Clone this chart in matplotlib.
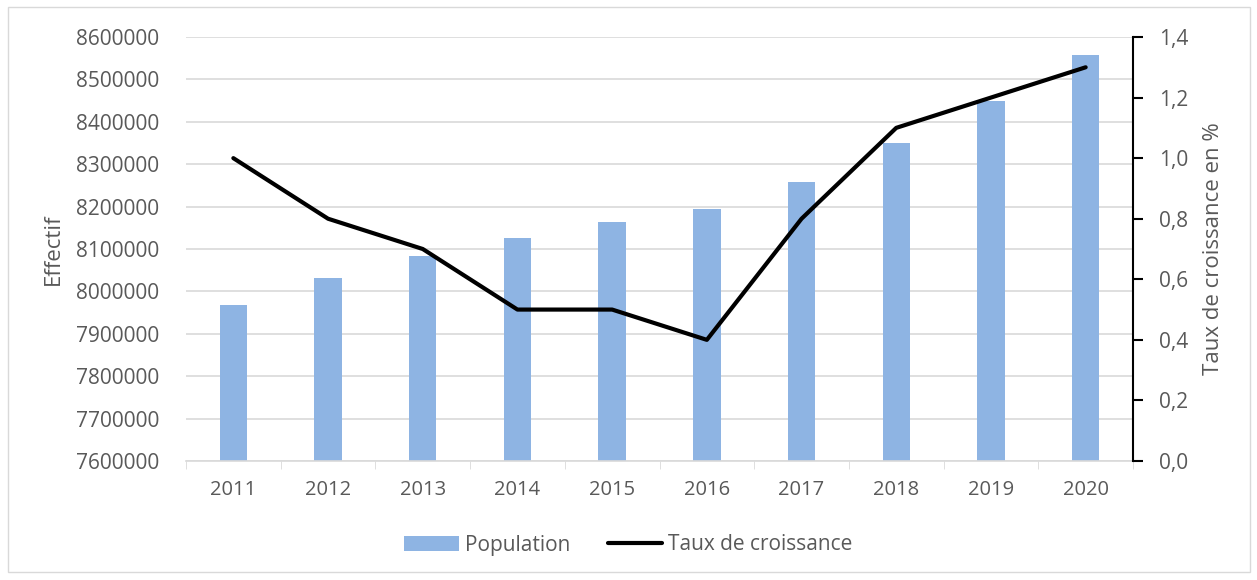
import matplotlib.pyplot as plt
from matplotlib.ticker import FuncFormatter
from matplotlib.patches import Rectangle

# Données
annees = ['2011', '2012', '2013', '2014', '2015', '2016', '2017', '2018', '2019', '2020']
population = [7968000, 8031000, 8083500, 8126000, 8163700, 8194300, 8258000, 8350700, 8448300, 8557500]
taux = [1.0, 0.8, 0.7, 0.5, 0.5, 0.4, 0.8, 1.1, 1.2, 1.3]

plt.rcParams['font.family'] = ['Open Sans', 'DejaVu Sans']
gris = '#595959'

fig = plt.figure(figsize=(12.57, 5.8), dpi=100)
ax = fig.add_axes([186 / 1257, 1 - 461 / 580, (1133 - 186) / 1257, (461 - 37) / 580])

x = list(range(len(annees)))
barres = ax.bar(x, population, width=0.29, color='#8eb4e3', label='Population', zorder=2)
ax.set_ylim(7600000, 8600000)
ax.set_xlim(-0.5, len(annees) - 0.5)
ax.set_yticks(range(7600000, 8600001, 100000))
ax.yaxis.set_major_formatter(FuncFormatter(lambda v, p: '%d' % v))
ax.grid(axis='y', color='#d9d9d9', linewidth=1.2, zorder=0)
ax.set_xticks(x)
ax.set_xticklabels(annees)
ax.set_xticks([i + 0.5 for i in x[:-1]] + [-0.5, len(annees) - 0.5], minor=True)
ax.tick_params(axis='x', which='major', length=0, pad=14, labelsize=14.5, labelcolor=gris)
ax.tick_params(axis='x', which='minor', length=6, color='#d9d9d9')
ax.tick_params(axis='y', length=0, pad=19, labelsize=15, labelcolor=gris)
for s in ['top', 'right', 'left']:
    ax.spines[s].set_visible(False)
ax.spines['bottom'].set_color('#d9d9d9')
ax.spines['bottom'].set_linewidth(1.2)
ax.set_ylabel('Effectif', fontsize=16, color=gris, labelpad=9)

ax2 = ax.twinx()
ligne, = ax2.plot(x, taux, color='black', linewidth=3, label='Taux de croissance',
                  solid_capstyle='round', zorder=3)
ax2.set_ylim(0, 1.4)
ax2.set_yticks([0, 0.2, 0.4, 0.6, 0.8, 1.0, 1.2, 1.4])
ax2.yaxis.set_major_formatter(FuncFormatter(lambda v, p: ('%.1f' % v).replace('.', ',')))
for s in ['top', 'left', 'bottom']:
    ax2.spines[s].set_visible(False)
ax2.spines['right'].set_color('black')
ax2.spines['right'].set_linewidth(1.5)
ax2.tick_params(axis='y', length=7, width=1.5, color='black', pad=12, labelsize=15, labelcolor=gris)
ax2.set_ylabel('Taux de croissance en %', fontsize=16, color=gris, labelpad=10)

fig.legend([barres, ligne], ['Population', 'Taux de croissance'], loc='center',
           bbox_to_anchor=(0.5, 1 - 545 / 580), ncol=2, frameon=False, fontsize=15,
           labelcolor=gris, handlelength=2.6, columnspacing=1.8, handletextpad=0.3)

# cadre du graphique
fig.patches.append(Rectangle((8 / 1257, 1 - 572 / 580), 1242 / 1257, 565 / 580,
                             transform=fig.transFigure, fill=False, edgecolor='#d9d9d9', linewidth=1))

fig.savefig('out.png', dpi=100)
